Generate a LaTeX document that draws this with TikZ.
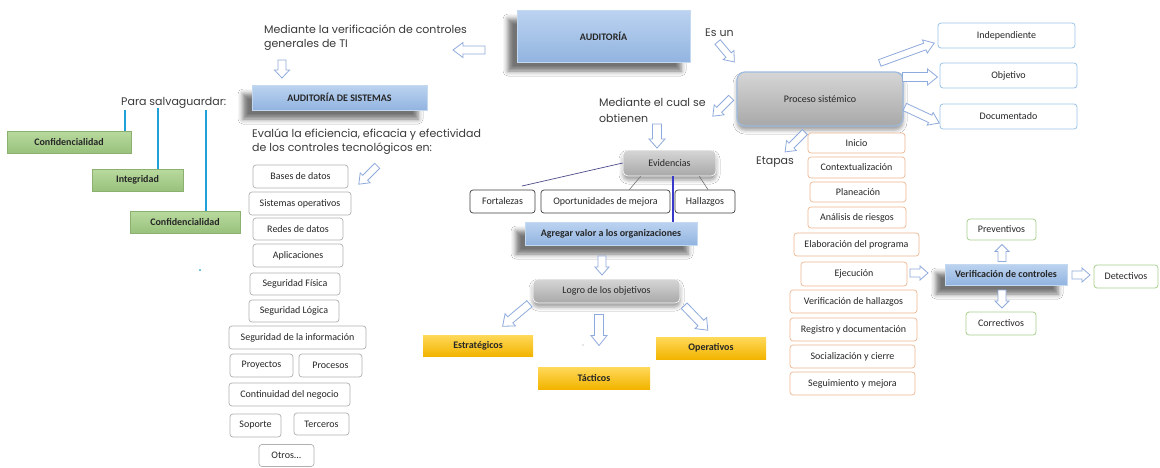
\documentclass[tikz,border=0pt]{standalone}
\usepackage{fontspec}
\setmainfont{Carlito}
\newfontfamily\gothic{Poppins}
\usetikzlibrary{shadows,shadows.blur,calc}
\definecolor{bluetop}{HTML}{BCD3F0}
\definecolor{bluebot}{HTML}{92B4E0}
\definecolor{blueedge}{HTML}{C4D8F0}
\definecolor{greentop}{HTML}{B9DA9F}
\definecolor{greenbot}{HTML}{98C27C}
\definecolor{greenedge}{HTML}{8BB06F}
\definecolor{goldtop}{HTML}{FFD95A}
\definecolor{goldbot}{HTML}{F2B400}
\definecolor{graytop}{HTML}{D6D6D6}
\definecolor{graybot}{HTML}{A8A8A8}
\definecolor{glow}{HTML}{9DBBE0}
\definecolor{orangeedge}{HTML}{EEB792}
\definecolor{listedge}{HTML}{B0B0B0}
\definecolor{lblueedge}{HTML}{9DC3E6}
\definecolor{lgreenedge}{HTML}{A9D08E}
\definecolor{arrowc}{HTML}{8FAADC}
\definecolor{cyanline}{HTML}{1FA0D8}
\definecolor{navyline}{HTML}{4A4A8A}
\definecolor{purpline}{HTML}{3A3AC8}
\definecolor{txt}{HTML}{262626}
\definecolor{lbltxt}{HTML}{3A3A3A}
\tikzset{
 base/.style={inner sep=1pt, align=center, text=txt, font=\fontsize{10}{11}\selectfont},
 shadowed/.style={blur shadow={shadow xshift=-9pt, shadow yshift=-9pt, shadow blur radius=5pt, shadow opacity=55}},
 bluebox/.style={base, shadowed, draw=blueedge, line width=0.8pt, top color=bluetop, bottom color=bluebot, font=\fontsize{10}{11}\selectfont\bfseries},
 greenbox/.style={base, draw=greenedge, line width=0.6pt, top color=greentop, bottom color=greenbot, font=\fontsize{10}{11}\selectfont\bfseries},
 goldbox/.style={base, draw=none, top color=goldtop, bottom color=goldbot, font=\fontsize{10}{11}\selectfont\bfseries},
 graybox/.style={base, draw=glow, line width=1.2pt, rounded corners=5pt, top color=graytop, bottom color=graybot,
   blur shadow={shadow xshift=0pt, shadow yshift=-4pt, shadow blur radius=4pt, shadow opacity=40}},
 stagebox/.style={base, draw=orangeedge, line width=0.7pt, rounded corners=3pt, fill=white},
 listbox/.style={base, draw=listedge, line width=0.7pt, rounded corners=3pt, fill=white},
 lbluebox/.style={base, draw=lblueedge, line width=0.8pt, rounded corners=3pt, fill=white},
 lgreenbox/.style={base, draw=lgreenedge, line width=0.8pt, rounded corners=3pt, fill=white},
 darkbox/.style={base, draw=black!75, line width=0.7pt, rounded corners=3pt, fill=white},
 biglabel/.style={inner sep=0pt, align=left, text=lbltxt, font=\gothic\fontsize{11}{14}\selectfont},
 arrowline/.style={draw=arrowc, line width=0.8pt, fill=white, line join=miter},
}
\newcommand\barrow[7]{%
\draw[arrowline, shift={(#1,#2)}, rotate=#3] (-#4/2,-#5) -- (#4/2-#7,-#5) -- (#4/2-#7,-#6) -- (#4/2,0) -- (#4/2-#7,#6) -- (#4/2-#7,#5) -- (-#4/2,#5) -- cycle;}
\begin{document}
\begin{tikzpicture}[x=1pt,y=-1pt]
\useasboundingbox (0,0) rectangle (1160,467);
\fill[white] (0,0) rectangle (1160,467);

% ---- main blue boxes
\node[bluebox, minimum width=173pt, minimum height=52pt] (audit) at (603.5,36) {AUDITORÍA};
\node[bluebox, minimum width=175pt, minimum height=25pt] (sist) at (339.5,97.5) {AUDITORÍA DE SISTEMAS};

% ---- big labels
\node[biglabel, anchor=north west] (medver) at (264,25) {Mediante la verificación de controles\\generales de TI};
\node[biglabel, anchor=west] (para) at (121,103) {Para salvaguardar:};
\node[biglabel, anchor=north west] (evalua) at (252,129) {Evalúa la eficiencia, eficacia y efectividad\\de los controles tecnológicos en:};
\node[biglabel, anchor=west] (esun) at (705,33) {Es un};
\node[biglabel, anchor=north west, font=\gothic\fontsize{11}{16}\selectfont] (medcual) at (599,98) {Mediante el cual se\\obtienen};
\node[biglabel, anchor=west] (etapas) at (756,162) {Etapas};

% ---- green boxes
\node[greenbox, minimum width=124pt, minimum height=22pt] (conf1) at (69,142) {Confidencialidad};
\node[greenbox, minimum width=91pt, minimum height=22pt] (integ) at (137.5,180) {Integridad};
\node[greenbox, minimum width=110pt, minimum height=22pt] (conf2) at (185,222) {Confidencialidad};
\coordinate (ps1) at (125,110);
\coordinate (ps2) at (158,108);
\coordinate (ps3) at (206,110);
\draw[cyanline, line width=2.2pt] (ps1) -- (ps1 |- conf1.north);
\draw[cyanline, line width=2.2pt] (ps2) -- (ps2 |- integ.north);
\draw[cyanline, line width=2.2pt] (ps3) -- (ps3 |- conf2.north);

% ---- list boxes
\node[listbox, minimum width=95pt, minimum height=23pt] (bases) at (300.5,176.5) {Bases de datos};
\node[listbox, minimum width=102pt, minimum height=23pt] (sisop) at (300,203.5) {Sistemas operativos};
\node[listbox, minimum width=90pt, minimum height=22pt] (redes) at (298,229) {Redes de datos};
\node[listbox, minimum width=90pt, minimum height=23pt] (aplic) at (298,255.5) {Aplicaciones};
\node[listbox, minimum width=90pt, minimum height=22pt] (segfis) at (295,284) {Seguridad Física};
\node[listbox, minimum width=90pt, minimum height=22pt] (seglog) at (294,311) {Seguridad Lógica};
\node[listbox, minimum width=137pt, minimum height=23pt] (seginf) at (297.5,337.5) {Seguridad de la información};
\node[listbox, minimum width=63pt, minimum height=23pt] (proy) at (261.5,365.5) {Proyectos};
\node[listbox, minimum width=63pt, minimum height=23pt] (proc) at (330.5,365.5) {Procesos};
\node[listbox, minimum width=121pt, minimum height=23pt] (cont) at (289.5,394.5) {Continuidad del negocio};
\node[listbox, minimum width=51pt, minimum height=23pt] (sop) at (255.5,425.5) {Soporte};
\node[listbox, minimum width=55pt, minimum height=22pt] (terc) at (321.5,424) {Terceros};
\node[listbox, minimum width=55pt, minimum height=22pt] (otros) at (286.5,455.5) {Otros...};
\fill[cyanline] (200,270) circle (1pt);

% ---- proceso
\node[graybox, minimum width=166pt, minimum height=54pt, rounded corners=8pt] (proc2) at (820,99) {Proceso sistémico};
\node[lbluebox, minimum width=137pt, minimum height=25pt] (indep) at (1006.5,35.5) {Independiente};
\node[lbluebox, minimum width=137pt, minimum height=25pt] (objet) at (1008.5,75.5) {Objetivo};
\node[lbluebox, minimum width=137pt, minimum height=25pt] (docum) at (1008.5,116.5) {Documentado};

% ---- evidencias
\node[graybox, draw=white, line width=0.6pt, minimum width=93pt, minimum height=26pt] (evid) at (669.5,163) {Evidencias};
\node[darkbox, minimum width=65pt, minimum height=23pt] (fort) at (502.5,201.5) {Fortalezas};
\node[darkbox, minimum width=129pt, minimum height=23pt] (oport) at (605.5,201.5) {Oportunidades de mejora};
\node[darkbox, minimum width=60pt, minimum height=23pt] (hall) at (705,201.5) {Hallazgos};
\node[bluebox, minimum width=172pt, minimum height=23pt] (agreg) at (611,233.5) {Agregar valor a los organizaciones};
\coordinate (fortend) at (522,186);
\draw[navyline, line width=0.7pt] (evid.west) -- (fortend);
\draw[black!55, line width=0.6pt] ($(evid.south west)+(18,0)$) -- ($(oport.north east)+(-41,0)$);
\draw[black!55, line width=0.6pt] ($(evid.south east)+(-17,0)$) -- ($(hall.north)+(3,0)$);
\coordinate (vline) at (673,176);
\draw[purpline, line width=1.6pt] (vline) -- (vline |- agreg.north);

% ---- logro
\node[graybox, draw=white, line width=0.6pt, minimum width=147pt, minimum height=24pt] (logro) at (606.5,291) {Logro de los objetivos};
\node[goldbox, minimum width=110pt, minimum height=21pt] (estr) at (478,345.5) {Estratégicos};
\node[goldbox, minimum width=112pt, minimum height=22pt] (tact) at (594,378) {Tácticos};
\node[goldbox, minimum width=110pt, minimum height=22pt] (oper) at (711,348) {Operativos};
\fill[black!40] (583,345) circle (0.6pt);

% ---- etapas
\node[stagebox, minimum width=97pt, minimum height=20pt] (s1) at (856.5,143) {Inicio};
\node[stagebox, minimum width=97pt, minimum height=21pt] (s2) at (856.5,167.5) {Contextualización};
\node[stagebox, minimum width=96pt, minimum height=20pt] (s3) at (858,192) {Planeación};
\node[stagebox, minimum width=98pt, minimum height=21pt] (s4) at (857,217.5) {Análisis de riesgos};
\node[stagebox, minimum width=125pt, minimum height=23pt] (s5) at (856.5,244.5) {Elaboración del programa};
\node[stagebox, minimum width=106pt, minimum height=24pt] (s6) at (854,274) {Ejecución};
\node[stagebox, minimum width=127pt, minimum height=23pt] (s7) at (853.5,301.5) {Verificación de hallazgos};
\node[stagebox, minimum width=127pt, minimum height=23pt] (s8) at (853.5,329.5) {Registro y documentación};
\node[stagebox, minimum width=125pt, minimum height=23pt] (s9) at (852.5,356.5) {Socialización y cierre};
\node[stagebox, minimum width=125pt, minimum height=23pt] (s10) at (852.5,383.5) {Seguimiento y mejora};

% ---- verificacion de controles
\node[bluebox, minimum width=122pt, minimum height=21pt] (verctl) at (1006,274.5) {Verificación de controles};
\node[lgreenbox, minimum width=69pt, minimum height=21pt] (prev) at (1001.5,229.5) {Preventivos};
\node[lgreenbox, minimum width=70pt, minimum height=23pt] (corr) at (1001,323.5) {Correctivos};
\node[lgreenbox, minimum width=64pt, minimum height=23pt] (detec) at (1126,276.5) {Detectivos};

% ---- block arrows: x y angle length shafthalf headhalf headlen
\barrow{469}{50}{180}{32}{4}{7.5}{10}
\barrow{282}{69}{270}{18}{4}{7.5}{8}
\barrow{368}{175}{225}{26}{3.5}{7}{9}
\barrow{726}{52}{-50}{26}{3.5}{7}{9}
\barrow{722}{107}{225}{26}{3.5}{7}{9}
\barrow{657}{136}{270}{24}{4.5}{8}{9}
\barrow{907}{53}{20}{58}{3.5}{7}{10}
\barrow{920}{77}{0}{35}{4.5}{8}{10}
\barrow{922}{115}{-25}{38}{4}{7}{10}
\barrow{795}{142}{225}{28}{3.5}{7}{9}
\barrow{602}{265.5}{270}{19}{4}{7}{8}
\barrow{516}{315}{220}{35}{4}{8}{10}
\barrow{599}{330}{270}{31}{4.5}{8}{10}
\barrow{696}{318}{-46}{34}{4}{8}{10}
\barrow{919}{273}{0}{18}{4}{7}{8}
\barrow{1002}{253}{90}{17}{4}{7}{7}
\barrow{1002}{299}{270}{18}{4}{7}{7}
\barrow{1081}{275}{0}{18}{4}{7}{8}
\end{tikzpicture}
\end{document}
